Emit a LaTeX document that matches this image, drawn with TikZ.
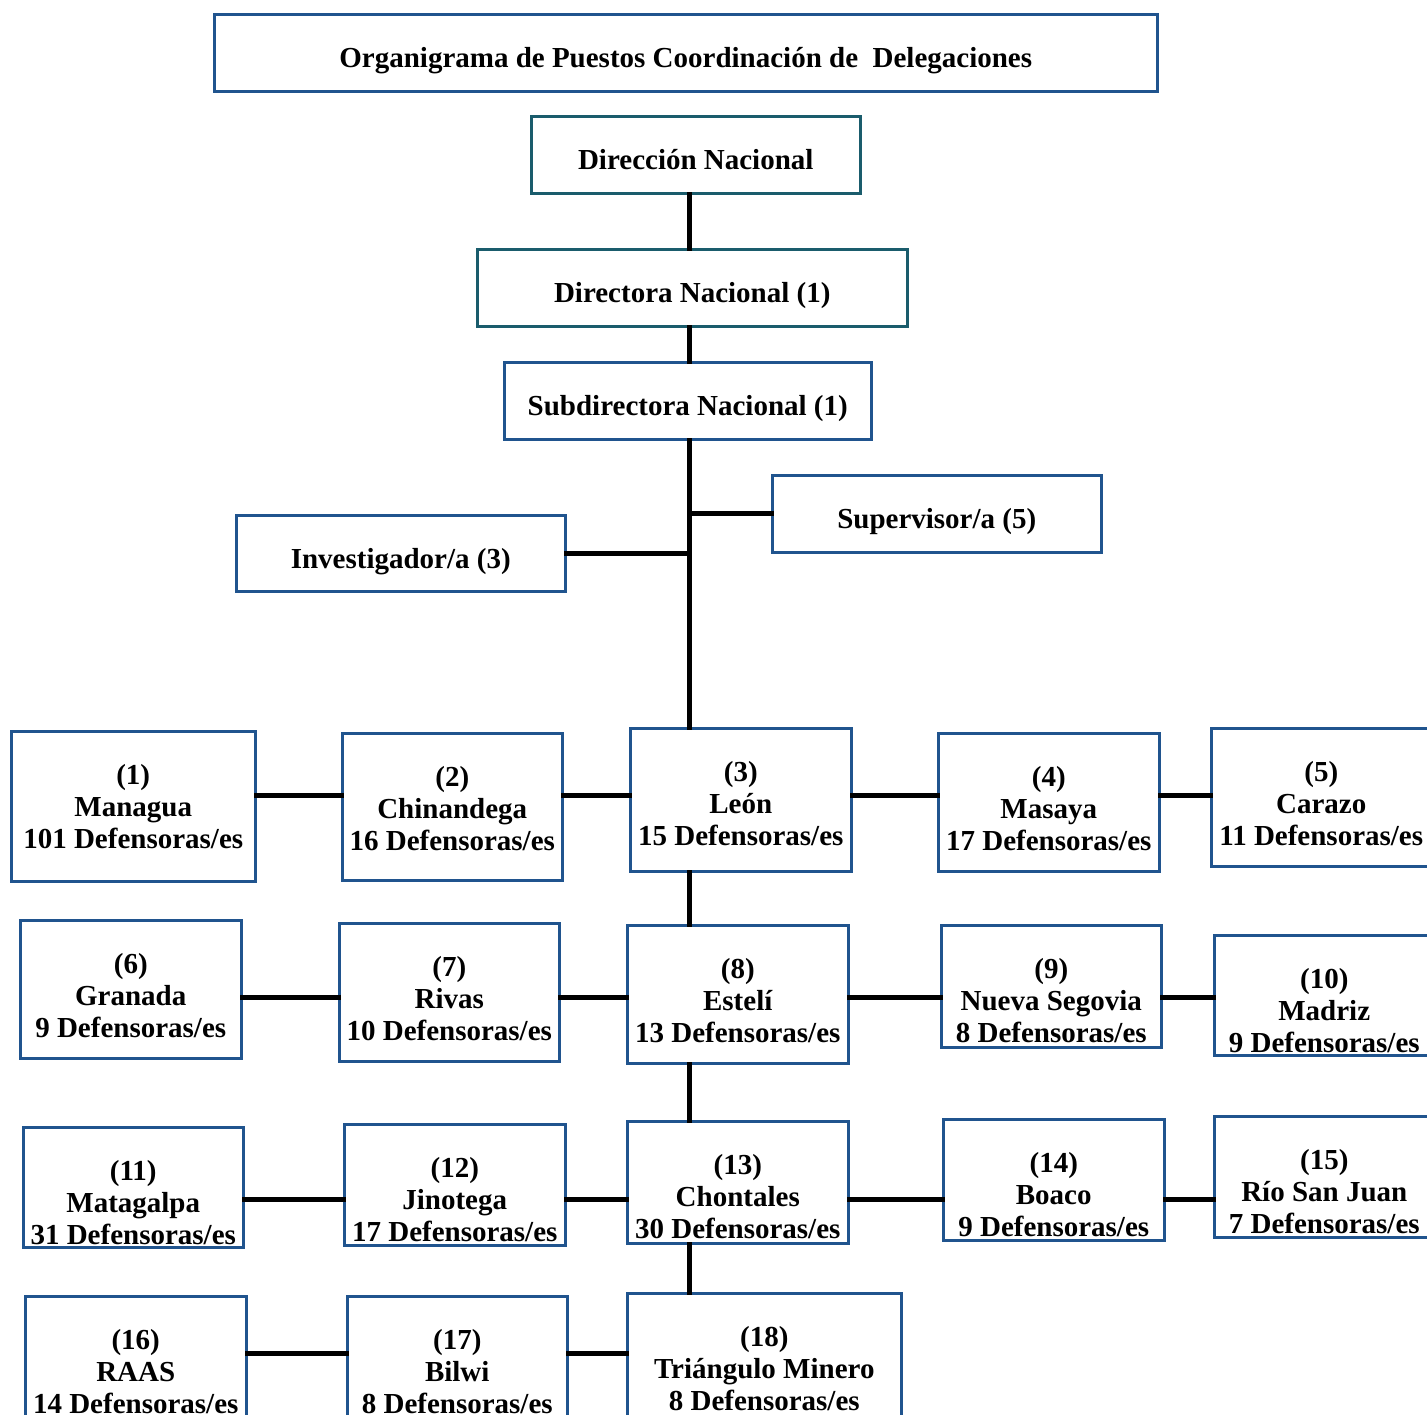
\documentclass[tikz,border=0pt]{standalone}
\usepackage{fontspec}
\setmainfont{Liberation Serif}

\definecolor{bordeazul}{RGB}{32,84,142}
\definecolor{bordeverde}{RGB}{26,92,108}

\tikzset{
  caja/.style={draw=bordeazul, line width=2.5pt, inner sep=0pt,
               anchor=north west,
               font=\bfseries\fontsize{29}{32}\selectfont},
  cajaverde/.style={caja, draw=bordeverde},
  enlace/.style={line width=5pt, line cap=rect}
}

% caja de un puesto: [estilo]{nombre}{x1}{y1}{x2}{y2}{texto}
\newcommand{\puesto}[7][caja]{%
  \node[#1] (#2) at (#3,#4)
    {\parbox[t][\dimexpr#6pt-#4pt\relax][t]{\dimexpr#5pt-#3pt\relax}%
      {\centering\rule{0pt}{53pt}#7}};}

\begin{document}
\begin{tikzpicture}[x=1pt, y=-1pt]
    \clip (0,0) rectangle (1427,1414);

    % cabecera y direccion
    \puesto{titulo}{213}{13}{1156}{90}{Organigrama de Puestos Coordinación de~ Delegaciones}
    \puesto[cajaverde]{dir}{530}{115}{859}{192}{Dirección Nacional}
    \puesto[cajaverde]{dira}{476}{248}{906}{325}{Directora Nacional (1)}
    \puesto{subdir}{503}{361}{870}{438}{Subdirectora Nacional (1)}
    \puesto{superv}{771}{474}{1100}{551}{Supervisor/a (5)}
    \puesto{investig}{235}{514}{564}{590}{Investigador/a (3)}

    % delegaciones
    \puesto{d1}{10}{730}{254}{880}{(1)\\Managua\\101 Defensoras/es}
    \puesto{d2}{341}{732}{561}{879}{(2)\\Chinandega\\16 Defensoras/es}
    \puesto{d3}{629}{727}{850}{870}{(3)\\León\\15 Defensoras/es}
    \puesto{d4}{937}{732}{1158}{870}{(4)\\Masaya\\17 Defensoras/es}
    \puesto{d5}{1210}{727}{1430}{865}{(5)\\Carazo\\11 Defensoras/es}

    \puesto{d6}{19}{919}{240}{1057}{(6)\\Granada\\9 Defensoras/es}
    \puesto{d7}{338}{922}{558}{1060}{(7)\\Rivas\\10 Defensoras/es}
    \puesto{d8}{626}{924}{847}{1062}{(8)\\Estelí\\13 Defensoras/es}
    \puesto{d9}{940}{924}{1160}{1046}{(9)\\Nueva Segovia\\8 Defensoras/es}
    \puesto{d10}{1213}{934}{1433}{1054}{(10)\\Madriz\\9 Defensoras/es}

    \puesto{d11}{22}{1126}{242}{1246}{(11)\\Matagalpa\\31 Defensoras/es}
    \puesto{d12}{343}{1123}{564}{1244}{(12)\\Jinotega\\17 Defensoras/es}
    \puesto{d13}{626}{1120}{847}{1242}{(13)\\Chontales\\30 Defensoras/es}
    \puesto{d14}{942}{1118}{1163}{1239}{(14)\\Boaco\\9 Defensoras/es}
    \puesto{d15}{1213}{1115}{1433}{1236}{(15)\\Río San Juan\\7 Defensoras/es}

    \puesto{d16}{24}{1295}{245}{1440}{(16)\\RAAS\\14 Defensoras/es}
    \puesto{d17}{346}{1295}{566}{1440}{(17)\\Bilwi\\8 Defensoras/es}
    \puesto{d18}{626}{1292}{900}{1440}{(18)\\Triángulo Minero\\8 Defensoras/es}

    % ejes
    \coordinate (eje) at (689,0);
    \coordinate (fila1) at (0,795);
    \coordinate (fila2) at (0,997);
    \coordinate (fila3) at (0,1199);
    \coordinate (fila4) at (0,1353);

    \draw[enlace] (dir.south -| eje) -- (dira.north -| eje);
    \draw[enlace] (dira.south -| eje) -- (subdir.north -| eje);
    \draw[enlace] (subdir.south -| eje) -- (d3.north -| eje);
    \draw[enlace] (d3.south -| eje) -- (d8.north -| eje);
    \draw[enlace] (d8.south -| eje) -- (d13.north -| eje);
    \draw[enlace] (d13.south -| eje) -- (d18.north -| eje);

    \draw[enlace] (superv.west) -- (superv.west -| eje);
    \draw[enlace] (investig.east) -- (investig.east -| eje);

    \foreach \a/\b/\f in {d1/d2/fila1, d2/d3/fila1, d3/d4/fila1, d4/d5/fila1,
                          d6/d7/fila2, d7/d8/fila2, d8/d9/fila2, d9/d10/fila2,
                          d11/d12/fila3, d12/d13/fila3, d13/d14/fila3, d14/d15/fila3,
                          d16/d17/fila4, d17/d18/fila4}
      \draw[enlace] (\a.east |- \f) -- (\b.west |- \f);
\end{tikzpicture}
\end{document}
